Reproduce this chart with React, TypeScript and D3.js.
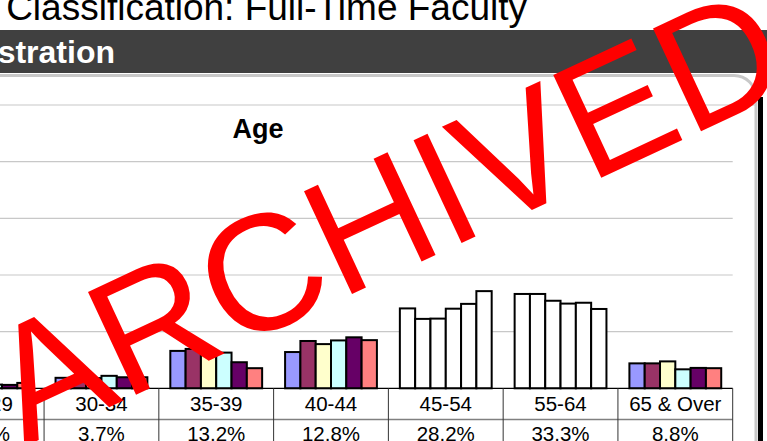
import * as d3 from 'd3';
import React, { useEffect, useRef } from 'react';

// age bands (the left-most one is only partly in view)
const categories = ['25-29', '30-34', '35-39', '40-44', '45-54', '55-64', '65 & Over'];
const seriesNames = ['Year 1', 'Year 2', 'Year 3', 'Year 4', 'Year 5', 'Year 6'];
const year1 = [1.5, 3.7, 13.2, 12.8, 28.2, 33.3, 8.8];
const year2 = [1.4, 3.5, 13.9, 16.7, 24.5, 33.3, 8.8];
const year3 = [1.6, 3.6, 13.0, 15.6, 24.6, 30.9, 9.5];
const year4 = [1.3, 4.4, 12.6, 16.9, 28.1, 29.9, 6.7];
const year5 = [1.2, 3.9, 9.2, 18.0, 29.8, 30.2, 7.2];
const year6 = [1.9, 3.9, 7.1, 17.0, 34.3, 28.0, 7.1];
const tableLabels = ['1.5%', '3.7%', '13.2%', '12.8%', '28.2%', '33.3%', '8.8%'];
const yTicks = [0, 20, 40, 60, 80, 100];
const highlighted = ['45-54', '55-64'];

const seriesColors = ['#9999FF', '#993366', '#FFFFCC', '#CCFFFF', '#660066', '#FF8080'];
const font = 'Liberation Sans, Arial, sans-serif';

const AgeChart = () => {
    const width = 767;
    const height = 441;
    const ref = useRef<SVGSVGElement>(null);

    useEffect(() => {
        const svg = d3.select(ref.current).attr('width', width).attr('height', height);
        svg.selectAll('*').remove();

        const values = [year1, year2, year3, year4, year5, year6];

        // page title + dark section header
        svg.append('rect').attr('width', width).attr('height', height).attr('fill', '#fff');
        svg.append('text')
            .attr('x', 527)
            .attr('y', 20)
            .attr('text-anchor', 'end')
            .style('font', `37px ${font}`)
            .attr('fill', '#000')
            .text('Classification: Full-Time Faculty');
        svg.append('rect').attr('x', 0).attr('y', 30).attr('width', width).attr('height', 43).attr('fill', '#404040');
        svg.append('text')
            .attr('x', 115)
            .attr('y', 63)
            .attr('text-anchor', 'end')
            .style('font', `bold 32px ${font}`)
            .attr('fill', '#fff')
            .text('stration');

        // rounded panel
        svg.append('rect')
            .attr('x', -40)
            .attr('y', 75.5)
            .attr('width', 796)
            .attr('height', 420)
            .attr('rx', 22)
            .attr('fill', '#fff')
            .attr('stroke', '#c8c8c8')
            .attr('stroke-width', 3);
        svg.append('rect').attr('x', 758).attr('y', 97).attr('width', 5).attr('height', 360).attr('fill', '#000');

        const x0 = d3.scaleBand().domain(categories).range([-70.7, 732.7]).paddingInner(0);
        const x1 = d3
            .scaleBand()
            .domain(seriesNames)
            .range([0, x0.bandwidth()])
            .paddingInner(0)
            .paddingOuter(0.75);
        const y = d3.scaleLinear().domain([0, 100]).range([388.3, 105]);

        // gridlines
        svg.append('g')
            .selectAll('line')
            .data(yTicks.filter((t) => t > 0))
            .join('line')
            .attr('x1', -10)
            .attr('x2', (d) => (d === 100 ? 755 : 732.7))
            .attr('y1', (d) => y(d))
            .attr('y2', (d) => y(d))
            .attr('stroke', '#c8c8c8')
            .attr('stroke-width', 1.2);

        svg.append('text')
            .attr('x', 258)
            .attr('y', 138)
            .attr('text-anchor', 'middle')
            .style('font', `bold 27px ${font}`)
            .text('Age');

        // bars
        const groups = svg
            .append('g')
            .selectAll('g')
            .data(categories)
            .join('g')
            .attr('transform', (d) => `translate(${x0(d)},0)`);
        groups
            .selectAll('rect')
            .data((cat, ci) => seriesNames.map((s, si) => ({ cat, s, si, v: values[si][ci] })))
            .join('rect')
            .attr('x', (d) => x1(d.s)!)
            .attr('width', x1.bandwidth())
            .attr('y', (d) => y(d.v))
            .attr('height', (d) => y(0) - y(d.v))
            .attr('fill', (d) => (highlighted.includes(d.cat) ? '#fff' : seriesColors[d.si]))
            .attr('stroke', '#000')
            .attr('stroke-width', 2);

        // data table under the axis
        const table = svg.append('g');
        table.append('line')
            .attr('x1', -10)
            .attr('x2', 732.7)
            .attr('y1', 388.3)
            .attr('y2', 388.3)
            .attr('stroke', '#000')
            .attr('stroke-width', 1.2);
        table.append('line')
            .attr('x1', -10)
            .attr('x2', 732.7)
            .attr('y1', 419.5)
            .attr('y2', 419.5)
            .attr('stroke', '#808080')
            .attr('stroke-width', 1.5);
        table.selectAll('.col')
            .data(categories)
            .join('line')
            .classed('col', true)
            .attr('x1', (d) => x0(d)! + x0.bandwidth())
            .attr('x2', (d) => x0(d)! + x0.bandwidth())
            .attr('y1', 388.3)
            .attr('y2', height)
            .attr('stroke', '#333')
            .attr('stroke-width', 1);
        table.selectAll('.cat')
            .data(categories)
            .join('text')
            .classed('cat', true)
            .attr('x', (d) => x0(d)! + x0.bandwidth() / 2)
            .attr('y', 410.5)
            .attr('text-anchor', 'middle')
            .style('font', `20.5px ${font}`)
            .text((d) => d);
        table.selectAll('.pct')
            .data(categories)
            .join('text')
            .classed('pct', true)
            .attr('x', (d) => x0(d)! + x0.bandwidth() / 2)
            .attr('y', 441)
            .attr('text-anchor', 'middle')
            .style('font', `20.5px ${font}`)
            .text((d, i) => tableLabels[i]);

        // watermark
        svg.append('text')
            .attr('transform', 'translate(24,447) rotate(-25)')
            .style('font', `165px ${font}`)
            .attr('fill', '#ff0000')
            .text('ARCHIVED');
    }, []);

    return <svg ref={ref} style={{ display: 'block' }}></svg>;
};

export default function App() {
    return (
        <div style={{ position: 'absolute', left: 0, top: 0 }}>
            <AgeChart />
        </div>
    );
}
